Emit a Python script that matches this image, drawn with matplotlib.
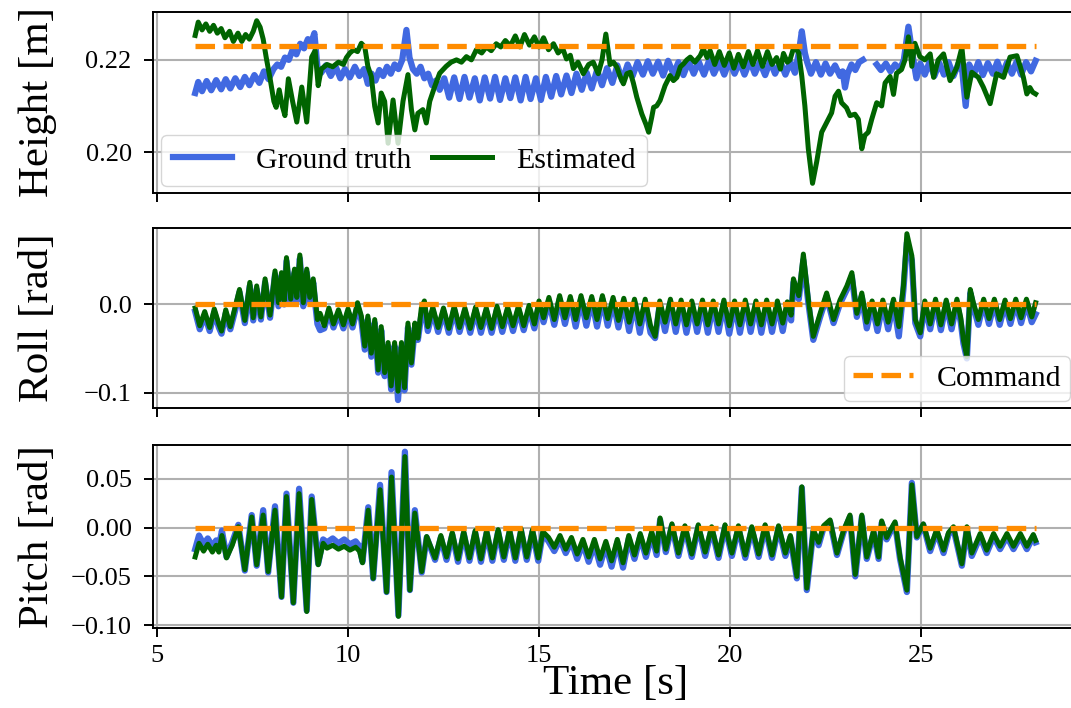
import numpy as np
import matplotlib
matplotlib.use("Agg")
import matplotlib.pyplot as plt

# command values (constant over the run)
cmd_time = [6.0, 28.0]
height_cmd = [0.223, 0.223]
roll_cmd = [0.0, 0.0]
pitch_cmd = [0.0, 0.0]

# height [m], (time, value)
height_gt = [
    (6.00, 0.2128), (6.08, 0.2152), (6.18, 0.2132), (6.30, 0.2154), (6.42, 0.2134), (6.55, 0.2156),
    (6.68, 0.2136), (6.80, 0.2158), (6.92, 0.2138), (7.05, 0.2160), (7.18, 0.2141), (7.30, 0.2163),
    (7.42, 0.2145), (7.55, 0.2167), (7.68, 0.2150), (7.80, 0.2175), (7.92, 0.2158), (8.05, 0.2180),
    (8.15, 0.2190), (8.25, 0.2185), (8.35, 0.2205), (8.45, 0.2200), (8.55, 0.2222), (8.65, 0.2212),
    (8.75, 0.2235), (8.85, 0.2225), (8.95, 0.2245), (9.05, 0.2240), (9.12, 0.2258), (9.20, 0.2185),
    (9.30, 0.2172), (9.42, 0.2188), (9.55, 0.2165), (9.68, 0.2185), (9.80, 0.2160), (9.92, 0.2180),
    (10.05, 0.2162), (10.18, 0.2185), (10.30, 0.2165), (10.42, 0.2180), (10.52, 0.2148), (10.62, 0.2170),
    (10.72, 0.2155), (10.82, 0.2178), (10.92, 0.2165), (11.02, 0.2185), (11.12, 0.2170), (11.22, 0.2190),
    (11.32, 0.2180), (11.42, 0.2200), (11.53, 0.2265), (11.61, 0.2205), (11.70, 0.2180), (11.80, 0.2170),
    (11.90, 0.2185), (12.00, 0.2160), (12.10, 0.2170), (12.20, 0.2145), (12.30, 0.2155), (12.40, 0.2135),
    (12.52, 0.2160), (12.65, 0.2118), (12.78, 0.2162), (12.92, 0.2115), (13.05, 0.2163), (13.18, 0.2118),
    (13.32, 0.2160), (13.45, 0.2112), (13.58, 0.2162), (13.72, 0.2116), (13.85, 0.2163), (13.98, 0.2113),
    (14.12, 0.2160), (14.25, 0.2117), (14.38, 0.2162), (14.52, 0.2112), (14.65, 0.2163), (14.78, 0.2115),
    (14.92, 0.2160), (15.05, 0.2113), (15.18, 0.2163), (15.32, 0.2120), (15.45, 0.2165), (15.58, 0.2125),
    (15.72, 0.2166), (15.85, 0.2128), (15.98, 0.2170), (16.12, 0.2135), (16.25, 0.2172), (16.38, 0.2138),
    (16.52, 0.2178), (16.65, 0.2145), (16.78, 0.2182), (16.92, 0.2150), (17.05, 0.2188), (17.18, 0.2155),
    (17.32, 0.2190), (17.45, 0.2165), (17.58, 0.2195), (17.72, 0.2168), (17.85, 0.2197), (17.98, 0.2170),
    (18.12, 0.2196), (18.25, 0.2166), (18.38, 0.2198), (18.52, 0.2169), (18.65, 0.2195), (18.78, 0.2167),
    (18.92, 0.2197), (19.05, 0.2170), (19.18, 0.2196), (19.32, 0.2168), (19.45, 0.2198), (19.58, 0.2170),
    (19.72, 0.2195), (19.85, 0.2168), (19.98, 0.2197), (20.12, 0.2170), (20.25, 0.2196), (20.38, 0.2168),
    (20.52, 0.2198), (20.65, 0.2170), (20.78, 0.2195), (20.92, 0.2167), (21.05, 0.2197), (21.18, 0.2170),
    (21.32, 0.2196), (21.45, 0.2168), (21.58, 0.2195), (21.70, 0.2172), (21.80, 0.2215), (21.88, 0.2262),
    (21.96, 0.2215), (22.02, 0.2195), (22.12, 0.2170), (22.25, 0.2195), (22.38, 0.2168), (22.50, 0.2192),
    (22.62, 0.2170), (22.75, 0.2188), (22.88, 0.2165), (22.95, 0.2175), (23.01, 0.2140), (23.08, 0.2170),
    (23.18, 0.2190), (23.28, 0.2178), (23.38, 0.2195), (23.48, 0.2200), (23.65, np.nan), (23.84, 0.2190),
    (23.95, 0.2178), (24.08, 0.2192), (24.20, 0.2175), (24.32, 0.2190), (24.45, 0.2180), (24.55, 0.2200),
    (24.67, 0.2272), (24.78, 0.2210), (24.88, 0.2160), (24.98, 0.2192), (25.10, 0.2168), (25.22, 0.2195),
    (25.35, 0.2165), (25.48, 0.2193), (25.60, 0.2168), (25.72, 0.2195), (25.85, 0.2165), (25.98, 0.2192),
    (26.08, 0.2175), (26.17, 0.2100), (26.26, 0.2190), (26.38, 0.2168), (26.50, 0.2195), (26.62, 0.2167),
    (26.75, 0.2193), (26.88, 0.2170), (27.00, 0.2196), (27.12, 0.2168), (27.25, 0.2194), (27.38, 0.2170),
    (27.50, 0.2196), (27.62, 0.2168), (27.75, 0.2195), (27.88, 0.2175), (28.00, 0.2198),
]

height_est = [
    (6.00, 0.2253), (6.08, 0.2282), (6.18, 0.2265), (6.28, 0.2278), (6.38, 0.2262), (6.48, 0.2275),
    (6.58, 0.2258), (6.68, 0.2268), (6.78, 0.2248), (6.90, 0.2262), (7.00, 0.2240), (7.12, 0.2258),
    (7.22, 0.2240), (7.32, 0.2255), (7.42, 0.2245), (7.52, 0.2262), (7.61, 0.2285), (7.70, 0.2271),
    (7.78, 0.2245), (7.86, 0.2205), (7.96, 0.2160), (8.06, 0.2110), (8.12, 0.2097), (8.20, 0.2135),
    (8.28, 0.2100), (8.35, 0.2079), (8.44, 0.2159), (8.55, 0.2110), (8.66, 0.2065), (8.79, 0.2141),
    (8.92, 0.2065), (9.05, 0.2206), (9.14, 0.2220), (9.22, 0.2144), (9.30, 0.2180), (9.45, 0.2190),
    (9.60, 0.2185), (9.75, 0.2195), (9.88, 0.2190), (9.96, 0.2205), (10.05, 0.2215), (10.15, 0.2222),
    (10.25, 0.2218), (10.35, 0.2236), (10.44, 0.2228), (10.52, 0.2186), (10.61, 0.2164), (10.70, 0.2099),
    (10.79, 0.2063), (10.87, 0.2128), (10.96, 0.2110), (11.05, 0.2019), (11.18, 0.2113), (11.31, 0.2019),
    (11.44, 0.2110), (11.57, 0.2168), (11.66, 0.2092), (11.75, 0.2048), (11.83, 0.2084), (11.96, 0.2092),
    (12.05, 0.2063), (12.14, 0.2110), (12.27, 0.2142), (12.40, 0.2171), (12.57, 0.2186), (12.70, 0.2195),
    (12.84, 0.2200), (12.97, 0.2195), (13.10, 0.2207), (13.23, 0.2200), (13.36, 0.2222), (13.50, 0.2215),
    (13.62, 0.2228), (13.75, 0.2220), (13.88, 0.2235), (14.00, 0.2228), (14.12, 0.2242), (14.25, 0.2230),
    (14.38, 0.2252), (14.50, 0.2228), (14.62, 0.2255), (14.75, 0.2232), (14.88, 0.2250), (15.00, 0.2228),
    (15.12, 0.2248), (15.25, 0.2222), (15.38, 0.2235), (15.50, 0.2215), (15.62, 0.2225), (15.72, 0.2202),
    (15.82, 0.2210), (15.90, 0.2181), (16.02, 0.2195), (16.16, 0.2170), (16.30, 0.2190), (16.42, 0.2195),
    (16.55, 0.2170), (16.65, 0.2200), (16.75, 0.2256), (16.86, 0.2190), (16.95, 0.2195), (17.04, 0.2184),
    (17.12, 0.2165), (17.21, 0.2148), (17.30, 0.2170), (17.39, 0.2173), (17.47, 0.2150), (17.56, 0.2119),
    (17.69, 0.2083), (17.80, 0.2060), (17.87, 0.2043), (17.95, 0.2075), (18.00, 0.2097), (18.08, 0.2100),
    (18.17, 0.2112), (18.30, 0.2144), (18.43, 0.2166), (18.52, 0.2155), (18.61, 0.2162), (18.70, 0.2185),
    (18.78, 0.2191), (18.87, 0.2200), (18.96, 0.2206), (19.08, 0.2195), (19.22, 0.2209), (19.30, 0.2224),
    (19.40, 0.2205), (19.48, 0.2220), (19.60, 0.2190), (19.72, 0.2218), (19.85, 0.2188), (19.98, 0.2215),
    (20.10, 0.2182), (20.22, 0.2212), (20.35, 0.2185), (20.48, 0.2218), (20.60, 0.2190), (20.72, 0.2220),
    (20.85, 0.2186), (20.98, 0.2218), (21.10, 0.2190), (21.22, 0.2205), (21.32, 0.2180), (21.40, 0.2214),
    (21.50, 0.2195), (21.57, 0.2200), (21.65, 0.2222), (21.72, 0.2225), (21.80, 0.2215), (21.88, 0.2164),
    (21.96, 0.2100), (22.05, 0.2007), (22.16, 0.1932), (22.27, 0.1979), (22.40, 0.2043), (22.53, 0.2064),
    (22.66, 0.2085), (22.75, 0.2121), (22.84, 0.2132), (22.92, 0.2107), (23.05, 0.2096), (23.14, 0.2079),
    (23.27, 0.2082), (23.36, 0.2071), (23.45, 0.2007), (23.53, 0.2036), (23.62, 0.2043), (23.71, 0.2071),
    (23.84, 0.2107), (23.97, 0.2100), (24.06, 0.2150), (24.19, 0.2164), (24.28, 0.2125), (24.36, 0.2171),
    (24.49, 0.2179), (24.58, 0.2200), (24.67, 0.2250), (24.76, 0.2186), (24.84, 0.2236), (24.97, 0.2207),
    (25.10, 0.2200), (25.24, 0.2213), (25.33, 0.2162), (25.45, 0.2200), (25.59, 0.2213), (25.76, 0.2155),
    (25.94, 0.2184), (26.07, 0.2227), (26.20, 0.2119), (26.33, 0.2173), (26.50, 0.2162), (26.63, 0.2141),
    (26.81, 0.2105), (26.98, 0.2170), (27.16, 0.2162), (27.33, 0.2206), (27.51, 0.2209), (27.60, 0.2185),
    (27.68, 0.2162), (27.77, 0.2126), (27.85, 0.2140), (27.92, 0.2130), (28.00, 0.2126),
]

# roll [rad], (time, ground truth, estimated)
roll = [
    (6.00, -0.008, -0.004), (6.12, -0.028, -0.024), (6.25, -0.012, -0.008), (6.38, -0.030, -0.026),
    (6.50, -0.009, -0.005), (6.62, -0.026, -0.022), (6.69, -0.033, -0.030), (6.80, -0.010, -0.006),
    (6.92, -0.028, -0.025), (7.04, -0.008, -0.004), (7.16, 0.014, 0.017), (7.30, -0.021, -0.018),
    (7.43, 0.021, 0.025), (7.52, -0.018, -0.015), (7.61, 0.017, 0.021), (7.72, -0.017, -0.014),
    (7.83, 0.025, 0.029), (7.96, -0.015, -0.012), (8.09, 0.034, 0.038), (8.18, -0.002, 0.002),
    (8.26, 0.032, 0.036), (8.33, 0.000, 0.004), (8.39, 0.049, 0.053), (8.50, 0.002, 0.006),
    (8.60, 0.036, 0.040), (8.66, 0.004, 0.008), (8.74, 0.052, 0.056), (8.83, -0.002, 0.002),
    (8.92, 0.036, 0.040), (9.00, 0.004, 0.008), (9.09, 0.025, 0.029), (9.15, -0.002, 0.004),
    (9.20, -0.022, -0.017), (9.27, -0.029, -0.010), (9.38, -0.027, -0.024), (9.50, -0.008, -0.004),
    (9.62, -0.026, -0.022), (9.75, -0.010, -0.006), (9.88, -0.027, -0.023), (10.00, -0.009, -0.005),
    (10.12, -0.026, -0.022), (10.25, -0.002, 0.002), (10.35, -0.018, -0.013), (10.44, -0.051, -0.047),
    (10.52, -0.017, -0.013), (10.61, -0.059, -0.055), (10.70, -0.021, -0.017), (10.79, -0.077, -0.074),
    (10.87, -0.029, -0.025), (10.96, -0.081, -0.077), (11.05, -0.047, -0.043), (11.13, -0.096, -0.092),
    (11.22, -0.047, -0.043), (11.31, -0.108, -0.098), (11.40, -0.048, -0.043), (11.48, -0.097, -0.094),
    (11.57, -0.026, -0.021), (11.66, -0.068, -0.066), (11.75, -0.026, -0.021), (11.83, -0.040, -0.038),
    (11.92, -0.012, -0.004), (12.00, -0.003, 0.004), (12.09, -0.030, -0.025), (12.22, -0.007, -0.003),
    (12.36, -0.031, -0.026), (12.50, -0.008, -0.004), (12.64, -0.032, -0.027), (12.78, -0.006, -0.002),
    (12.92, -0.031, -0.026), (13.06, -0.008, -0.004), (13.20, -0.032, -0.027), (13.34, -0.007, -0.003),
    (13.48, -0.032, -0.026), (13.62, -0.008, -0.004), (13.76, -0.032, -0.027), (13.90, -0.006, -0.002),
    (14.04, -0.031, -0.025), (14.18, -0.007, -0.003), (14.32, -0.030, -0.024), (14.46, -0.006, -0.002),
    (14.60, -0.029, -0.024), (14.74, -0.005, -0.001), (14.88, -0.027, -0.022), (15.00, 0.000, 0.004),
    (15.12, -0.020, -0.015), (15.26, 0.004, 0.008), (15.40, -0.023, -0.017), (15.54, 0.006, 0.010),
    (15.68, -0.022, -0.015), (15.82, 0.005, 0.009), (15.96, -0.025, -0.017), (16.10, 0.006, 0.010),
    (16.24, -0.024, -0.015), (16.38, 0.005, 0.009), (16.52, -0.025, -0.017), (16.66, 0.006, 0.010),
    (16.80, -0.024, -0.016), (16.94, 0.004, 0.008), (17.08, -0.026, -0.018), (17.22, 0.003, 0.007),
    (17.36, -0.030, -0.020), (17.50, 0.002, 0.006), (17.64, -0.032, -0.022), (17.78, 0.002, 0.006),
    (17.92, -0.032, -0.024), (18.04, -0.038, -0.036), (18.16, 0.000, 0.004), (18.30, -0.030, -0.020),
    (18.44, 0.002, 0.006), (18.58, -0.031, -0.022), (18.72, 0.001, 0.005), (18.86, -0.032, -0.023),
    (19.00, 0.000, 0.004), (19.14, -0.031, -0.022), (19.28, 0.001, 0.005), (19.42, -0.032, -0.023),
    (19.56, 0.000, 0.004), (19.70, -0.031, -0.022), (19.84, 0.001, 0.005), (19.98, -0.033, -0.024),
    (20.12, 0.000, 0.004), (20.26, -0.032, -0.023), (20.40, 0.001, 0.005), (20.54, -0.031, -0.022),
    (20.68, 0.000, 0.004), (20.82, -0.032, -0.023), (20.96, 0.001, 0.005), (21.10, -0.031, -0.022),
    (21.24, 0.000, 0.004), (21.38, -0.030, -0.021), (21.50, -0.001, 0.003), (21.60, -0.018, -0.012),
    (21.66, 0.025, 0.029), (21.80, 0.006, 0.010), (21.92, 0.050, 0.057), (22.05, 0.002, 0.006),
    (22.18, -0.040, -0.036), (22.36, -0.014, -0.010), (22.53, 0.009, 0.013), (22.71, -0.021, -0.017),
    (22.88, 0.001, 0.005), (23.06, 0.017, 0.021), (23.19, 0.032, 0.036), (23.32, -0.014, -0.010),
    (23.45, 0.009, 0.013), (23.58, -0.027, -0.020), (23.72, 0.000, 0.004), (23.86, -0.030, -0.022),
    (24.00, 0.001, 0.005), (24.14, -0.028, -0.020), (24.28, 0.002, 0.006), (24.42, -0.036, -0.025),
    (24.54, 0.017, 0.021), (24.63, 0.070, 0.080), (24.76, 0.050, 0.055), (24.85, -0.021, -0.017),
    (24.98, -0.036, -0.032), (25.10, 0.000, 0.004), (25.24, -0.028, -0.022), (25.38, 0.002, 0.006),
    (25.52, -0.029, -0.023), (25.66, 0.001, 0.005), (25.80, -0.028, -0.022), (25.94, 0.002, 0.006),
    (26.04, -0.020, -0.015), (26.11, -0.044, -0.040), (26.20, -0.061, -0.059), (26.29, 0.013, 0.017),
    (26.37, -0.002, 0.002), (26.50, -0.023, -0.017), (26.64, 0.002, 0.006), (26.78, -0.022, -0.016),
    (26.92, 0.002, 0.006), (27.06, -0.023, -0.017), (27.20, 0.001, 0.005), (27.34, -0.022, -0.016),
    (27.48, 0.002, 0.006), (27.62, -0.021, -0.015), (27.76, 0.002, 0.006), (27.90, -0.020, -0.014),
    (28.00, -0.011, 0.002),
]

# pitch [rad], (time, ground truth, estimated)
pitch = [
    (6.00, -0.022, -0.030), (6.10, -0.008, -0.016), (6.22, -0.017, -0.024), (6.33, -0.011, -0.017),
    (6.45, -0.019, -0.025), (6.55, -0.013, -0.018), (6.62, -0.020, -0.025), (6.70, -0.003, -0.008),
    (6.82, -0.030, -0.031), (6.97, -0.015, -0.018), (7.13, 0.003, 0.001), (7.30, -0.044, -0.043),
    (7.48, 0.013, 0.011), (7.61, -0.039, -0.038), (7.78, 0.018, 0.013), (7.91, -0.046, -0.045),
    (8.09, 0.022, 0.018), (8.26, -0.071, -0.071), (8.39, 0.035, 0.032), (8.57, -0.077, -0.077),
    (8.72, 0.040, 0.035), (8.92, -0.085, -0.086), (9.05, 0.032, 0.029), (9.22, -0.037, -0.038),
    (9.35, -0.012, -0.016), (9.45, -0.015, -0.021), (9.60, -0.011, -0.018), (9.75, -0.016, -0.022),
    (9.90, -0.012, -0.019), (10.05, -0.017, -0.023), (10.20, -0.014, -0.020), (10.30, -0.019, -0.024),
    (10.38, -0.035, -0.036), (10.53, 0.021, 0.018), (10.66, -0.052, -0.052), (10.84, 0.044, 0.039),
    (11.01, -0.066, -0.066), (11.14, 0.057, 0.052), (11.32, -0.090, -0.091), (11.49, 0.078, 0.073),
    (11.62, -0.064, -0.064), (11.75, 0.018, 0.015), (11.93, -0.046, -0.045), (12.06, -0.010, -0.009),
    (12.28, -0.033, -0.031), (12.43, -0.010, -0.008), (12.58, -0.033, -0.030), (12.73, -0.007, -0.005),
    (12.88, -0.035, -0.032), (13.03, -0.006, -0.004), (13.18, -0.034, -0.031), (13.33, -0.005, -0.003),
    (13.48, -0.035, -0.032), (13.63, -0.005, -0.003), (13.78, -0.034, -0.031), (13.93, -0.004, -0.002),
    (14.08, -0.033, -0.030), (14.23, -0.004, -0.002), (14.38, -0.034, -0.031), (14.53, -0.003, -0.001),
    (14.68, -0.033, -0.030), (14.83, -0.004, -0.002), (14.98, -0.034, -0.031), (15.10, -0.006, -0.004),
    (15.25, -0.014, -0.010), (15.40, -0.024, -0.020), (15.55, -0.012, -0.008), (15.70, -0.026, -0.022),
    (15.85, -0.014, -0.010), (16.00, -0.032, -0.027), (16.15, -0.016, -0.012), (16.30, -0.035, -0.030),
    (16.45, -0.017, -0.012), (16.60, -0.038, -0.032), (16.75, -0.018, -0.014), (16.90, -0.040, -0.034),
    (17.05, -0.015, -0.012), (17.20, -0.041, -0.036), (17.35, -0.011, -0.008), (17.50, -0.032, -0.028),
    (17.65, -0.009, -0.006), (17.80, -0.030, -0.026), (17.95, -0.007, -0.004), (18.08, -0.028, -0.024),
    (18.17, 0.008, 0.010), (18.32, -0.025, -0.022), (18.48, 0.002, 0.004), (18.65, -0.029, -0.026),
    (18.82, 0.000, 0.002), (19.00, -0.030, -0.027), (19.17, 0.001, 0.003), (19.35, -0.029, -0.025),
    (19.52, -0.001, 0.001), (19.70, -0.031, -0.028), (19.87, 0.001, 0.003), (20.05, -0.029, -0.026),
    (20.22, 0.000, 0.002), (20.40, -0.031, -0.028), (20.57, -0.001, 0.001), (20.75, -0.030, -0.027),
    (20.92, 0.001, 0.003), (21.10, -0.031, -0.028), (21.27, 0.000, 0.002), (21.45, -0.029, -0.026),
    (21.58, -0.010, -0.008), (21.75, -0.052, -0.050), (21.88, 0.041, 0.042), (22.01, -0.064, -0.062),
    (22.18, -0.004, -0.002), (22.32, -0.018, -0.015), (22.45, 0.000, 0.002), (22.62, 0.006, 0.008),
    (22.80, -0.028, -0.026), (22.97, -0.005, -0.003), (23.14, 0.011, 0.013), (23.28, -0.050, -0.048),
    (23.45, 0.011, 0.013), (23.58, -0.032, -0.030), (23.76, -0.005, -0.003), (23.89, -0.032, -0.030),
    (23.97, 0.005, 0.007), (24.10, -0.012, -0.010), (24.19, -0.005, -0.003), (24.32, 0.004, 0.006),
    (24.45, -0.032, -0.030), (24.63, -0.066, -0.064), (24.76, 0.046, 0.044), (24.89, -0.010, -0.009),
    (25.06, 0.003, 0.004), (25.24, -0.024, -0.021), (25.41, -0.004, -0.002), (25.59, -0.026, -0.023),
    (25.72, -0.007, -0.005), (25.85, -0.001, 0.001), (26.07, -0.039, -0.037), (26.20, -0.001, 0.001),
    (26.33, -0.029, -0.026), (26.55, -0.009, -0.006), (26.72, -0.026, -0.023), (26.90, -0.009, -0.006),
    (27.07, -0.022, -0.019), (27.25, -0.009, -0.006), (27.42, -0.022, -0.019), (27.60, -0.009, -0.006),
    (27.77, -0.022, -0.019), (27.94, -0.009, -0.007), (28.00, -0.015, -0.013),
]

plt.rcParams['font.family'] = 'serif'
plt.rcParams['font.serif'] = ['Liberation Serif', 'DejaVu Serif']
plt.rcParams['lines.solid_joinstyle'] = 'round'

c_gt = '#4169e1'
c_est = '#006400'
c_cmd = '#ff8c00'

fig = plt.figure(figsize=(10.71, 7.08), dpi=100)
ax1 = fig.add_axes([0.1430, 0.7274, 0.8632, 0.2557])
ax2 = fig.add_axes([0.1430, 0.4237, 0.8632, 0.2542], sharex=ax1)
ax3 = fig.add_axes([0.1430, 0.1130, 0.8632, 0.2585], sharex=ax1)

t, v = zip(*height_gt)
ax1.plot(t, v, color=c_gt, lw=4.5, label='Ground truth')
t, v = zip(*height_est)
ax1.plot(t, v, color=c_est, lw=3.6, label='Estimated')
ax1.plot(cmd_time, height_cmd, '--', color=c_cmd, lw=3.8)

t, g, e = zip(*roll)
ax2.plot(t, g, color=c_gt, lw=4.5)
ax2.plot(t, e, color=c_est, lw=3.6)
ax2.plot(cmd_time, roll_cmd, '--', color=c_cmd, lw=3.8, label='Command')

t, g, e = zip(*pitch)
ax3.plot(t, g, color=c_gt, lw=4.5)
ax3.plot(t, e, color=c_est, lw=3.6)
ax3.plot(cmd_time, pitch_cmd, '--', color=c_cmd, lw=3.8)

ax1.set_ylim(0.1911, 0.2304)
ax1.set_yticks([0.20, 0.22])
ax1.set_yticklabels(['0.20', '0.22'])
ax2.set_ylim(-0.117, 0.0864)
ax2.set_yticks([-0.1, 0.0])
ax2.set_yticklabels(['\u22120.1', '0.0'])
ax3.set_ylim(-0.1029, 0.0849)
ax3.set_yticks([-0.10, -0.05, 0.00, 0.05])
ax3.set_yticklabels(['\u22120.10', '\u22120.05', '0.00', '0.05'])
ax3.set_xlim(4.9, 29.1)
ax3.set_xticks([5, 10, 15, 20, 25])

for ax in (ax1, ax2, ax3):
    ax.grid(True, color='#b0b0b0', lw=1.5)
    ax.tick_params(labelsize=19, length=6.5, width=1.4, pad=6)
    ax.tick_params(axis='y', pad=9)
    for s in ax.spines.values():
        s.set_linewidth(1.4)
    ax.yaxis.set_label_coords(-0.104, 0.5)
ax1.tick_params(labelbottom=False)
ax2.tick_params(labelbottom=False)

ax1.set_ylabel('Height [m]', fontsize=31)
ax2.set_ylabel('Roll [rad]', fontsize=31)
ax3.set_ylabel('Pitch [rad]', fontsize=31)
ax3.set_xlabel('Time [s]', fontsize=31, labelpad=-2)

ax1.legend(loc='lower left', ncol=2, fontsize=21.5, borderaxespad=0.25,
           columnspacing=0.7, borderpad=0.4)
ax2.legend(loc='lower right', fontsize=21.5, borderaxespad=0.25, borderpad=0.3)

fig.savefig('out.png', dpi=100)
